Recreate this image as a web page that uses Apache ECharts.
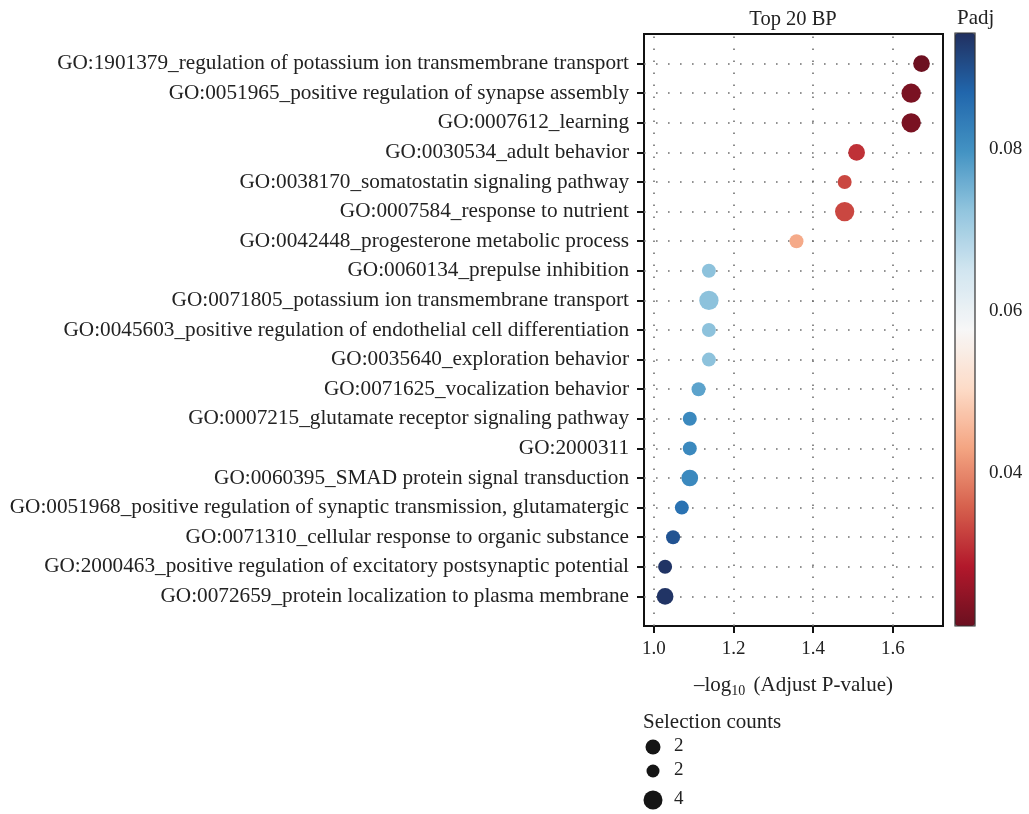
<!DOCTYPE html>
<html>
<head>
<meta charset="utf-8">
<script src="https://cdn.jsdelivr.net/npm/echarts@6/dist/echarts.min.js"></script>
<style>html,body{margin:0;padding:0;background:#fff;}#c{width:1029px;height:814px;}</style>
</head>
<body>
<div id="c"></div>
<script>
// ---- data (top to bottom) ----
var terms = [
  'GO:1901379_regulation of potassium ion transmembrane transport',
  'GO:0051965_positive regulation of synapse assembly',
  'GO:0007612_learning',
  'GO:0030534_adult behavior',
  'GO:0038170_somatostatin signaling pathway',
  'GO:0007584_response to nutrient',
  'GO:0042448_progesterone metabolic process',
  'GO:0060134_prepulse inhibition',
  'GO:0071805_potassium ion transmembrane transport',
  'GO:0045603_positive regulation of endothelial cell differentiation',
  'GO:0035640_exploration behavior',
  'GO:0071625_vocalization behavior',
  'GO:0007215_glutamate receptor signaling pathway',
  'GO:2000311',
  'GO:0060395_SMAD protein signal transduction',
  'GO:0051968_positive regulation of synaptic transmission, glutamatergic',
  'GO:0071310_cellular response to organic substance',
  'GO:2000463_positive regulation of excitatory postsynaptic potential',
  'GO:0072659_protein localization to plasma membrane'
];
var negLogP = [1.672, 1.646, 1.646, 1.509, 1.479, 1.479, 1.358, 1.138, 1.138, 1.138, 1.138, 1.112, 1.090, 1.090, 1.090, 1.070, 1.048, 1.028, 1.028];
var counts  = [3, 4, 4, 3, 2, 4, 2, 2, 4, 2, 2, 2, 2, 2, 3, 2, 2, 2, 3];
var padj    = [0.0213, 0.0226, 0.0226, 0.0310, 0.0332, 0.0332, 0.0438, 0.0728, 0.0728, 0.0728, 0.0728, 0.0773, 0.0813, 0.0813, 0.0813, 0.0851, 0.0895, 0.0938, 0.0938];
var xTicks = [1.0, 1.2, 1.4, 1.6];
var padjTicks = [0.04, 0.06, 0.08];
var padjRange = [0.0211, 0.0943];
var legendCounts = ['2', '2', '4'];

var FONT = 'Liberation Serif';
var n = terms.length;
var yPos = terms.map(function (t, i) { return n - i; });
var data = terms.map(function (t, i) { return [negLogP[i], yPos[i], counts[i], padj[i]]; });
var sizeOf = {2: 14, 3: 16.7, 4: 19.3};

var hLines = yPos.map(function (y) { return {yAxis: y}; });
var vLines = xTicks.map(function (x) { return {xAxis: x}; });

var chart = echarts.init(document.getElementById('c'));
chart.setOption({
  animation: false,
  textStyle: {fontFamily: FONT},
  grid: [
    {left: 644, top: 34, width: 299, height: 592, show: true, borderColor: '#111', borderWidth: 2, backgroundColor: 'transparent'},
    {left: 955, top: 33, width: 20, height: 593, show: false}
  ],
  xAxis: [{
    type: 'value', gridIndex: 0, min: 0.975, max: 1.726,
    axisLine: {show: false},
    splitLine: {show: false},
    axisTick: {show: true, customValues: xTicks, length: 7, lineStyle: {color: '#111', width: 2}},
    axisLabel: {customValues: xTicks, formatter: function (v) { return v.toFixed(1); }, fontSize: 19, color: '#222', margin: 14, fontFamily: FONT},
    name: '{a|\u2013log}{b|10}{a| (Adjust P-value)}',
    nameLocation: 'middle', nameGap: 47,
    nameTextStyle: {rich: {a: {fontSize: 21, color: '#222', fontFamily: FONT}, b: {fontSize: 14, color: '#222', fontFamily: FONT, padding: [11, 3, 0, 0]}}}
  }, {
    type: 'value', gridIndex: 1, show: false, min: 0, max: 1
  }],
  yAxis: [{
    type: 'value', gridIndex: 0, min: 0, max: 20,
    axisLine: {show: false},
    splitLine: {show: false},
    axisTick: {show: true, customValues: yPos, length: 7, lineStyle: {color: '#111', width: 2}},
    axisLabel: {customValues: yPos, formatter: function (v) { return terms[n - v] || ''; }, fontSize: 21.25, color: '#222', margin: 15, fontFamily: FONT}
  }, {
    type: 'value', gridIndex: 1, position: 'right', min: padjRange[0], max: padjRange[1],
    axisLine: {show: false},
    splitLine: {show: false},
    axisTick: {show: true, customValues: padjTicks, length: 6, lineStyle: {color: '#222', width: 1.5}},
    axisLabel: {customValues: padjTicks, formatter: function (v) { return v.toFixed(2); }, fontSize: 19, color: '#222', margin: 14, fontFamily: FONT}
  }],
  visualMap: [{
    type: 'continuous', seriesIndex: 0, dimension: 3,
    min: padjRange[0], max: padjRange[1],
    orient: 'vertical', left: 955, top: 33, padding: 0,
    itemWidth: 20, itemHeight: 593, calculable: false, text: null, showLabel: false,
    inRange: {color: ['#6b1020', '#b2182b', '#d6604d', '#f4a582', '#fddbc7', '#f7f7f7', '#d1e5f0', '#92c5de', '#4393c3', '#2166ac', '#213060']}
  }],
  series: [{
    type: 'scatter', xAxisIndex: 0, yAxisIndex: 0, data: data,
    symbolSize: function (v) { return sizeOf[v[2]]; },
    itemStyle: {opacity: 1},
    z: 5,
    markLine: {
      silent: true, symbol: 'none', animation: false, label: {show: false},
      lineStyle: {color: '#6f6f6f', width: 1.6, type: [1.6, 10.4], dashOffset: -12},
      data: hLines.concat(vLines)
    }
  }],
  graphic: [
    {type: 'text', x: 793, y: 9, style: {text: 'Top 20 BP', font: '20.5px "' + FONT + '"', fill: '#222', align: 'center', textAlign: 'center'}},
    {type: 'text', x: 957, y: 8, style: {text: 'Padj', font: '21px "' + FONT + '"', fill: '#222'}},
    {type: 'rect', shape: {x: 955, y: 33, width: 20, height: 593}, style: {fill: 'none', stroke: '#333', lineWidth: 1.2}, z: 100},
    {type: 'text', x: 643, y: 712, style: {text: 'Selection counts', font: '21px "' + FONT + '"', fill: '#222'}},
    {type: 'circle', shape: {cx: 653, cy: 747, r: 7.5}, style: {fill: '#151515'}},
    {type: 'circle', shape: {cx: 653, cy: 771, r: 6.5}, style: {fill: '#151515'}},
    {type: 'circle', shape: {cx: 653, cy: 800, r: 9.5}, style: {fill: '#151515'}},
    {type: 'text', x: 674, y: 737, style: {text: legendCounts[0], font: '19px "' + FONT + '"', fill: '#222'}},
    {type: 'text', x: 674, y: 761, style: {text: legendCounts[1], font: '19px "' + FONT + '"', fill: '#222'}},
    {type: 'text', x: 674, y: 790, style: {text: legendCounts[2], font: '19px "' + FONT + '"', fill: '#222'}}
  ]
});
</script>
</body>
</html>
